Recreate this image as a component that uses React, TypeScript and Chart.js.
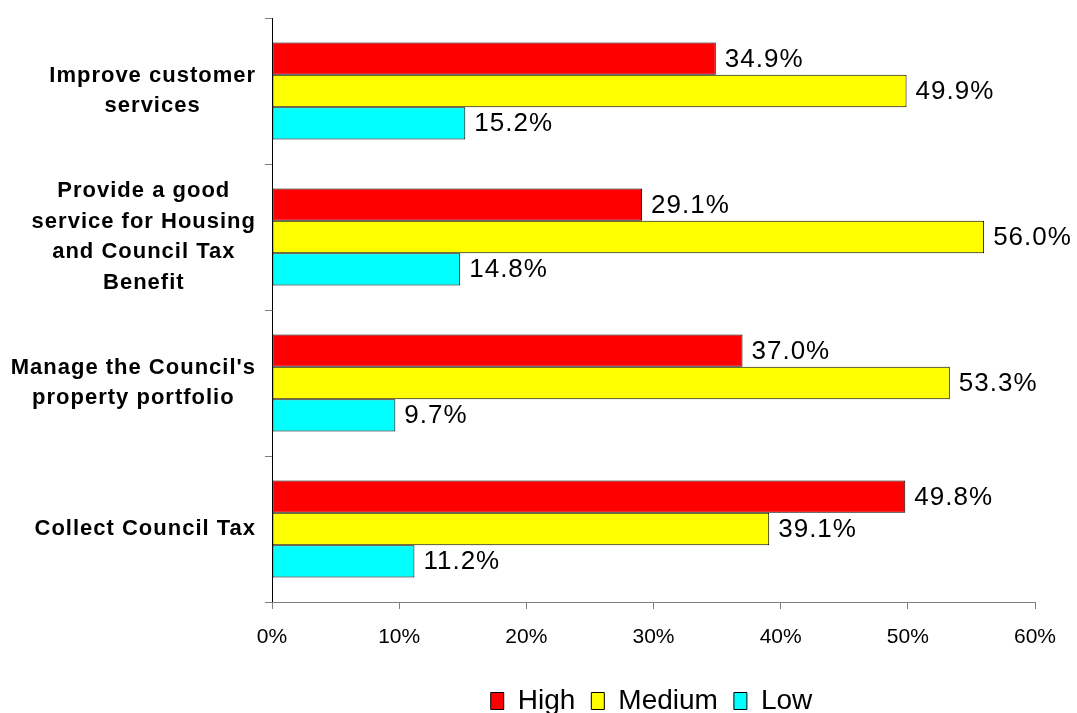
import React, { useEffect, useRef } from "react";
import { Chart, registerables } from "chart.js";

Chart.register(...registerables);

const FONT = "Arial, 'Liberation Sans', sans-serif";

const categories: string[][] = [
  ["Improve customer", "services"],
  ["Provide a good", "service for Housing", "and Council Tax", "Benefit"],
  ["Manage the Council's", "property portfolio"],
  ["Collect Council Tax"],
];
const seriesNames = ["High", "Medium", "Low"];
const seriesColors = ["#FF0000", "#FFFF00", "#00FFFF"];
const highValues = [34.9, 29.1, 37.0, 49.8];
const mediumValues = [49.9, 56.0, 53.3, 39.1];
const lowValues = [15.2, 14.8, 9.7, 11.2];
const xMin = 0;
const xMax = 60;
const xStep = 10;

const valueLabels = {
  id: "valueLabels",
  afterDatasetsDraw(chart: any) {
    const ctx = chart.ctx as CanvasRenderingContext2D;
    ctx.save();
    ctx.font = `26px ${FONT}`;
    (ctx as any).letterSpacing = "1px";
    ctx.fillStyle = "#000";
    ctx.textBaseline = "middle";
    ctx.textAlign = "left";
    chart.data.datasets.forEach((ds: any, di: number) => {
      const meta = chart.getDatasetMeta(di);
      meta.data.forEach((el: any, i: number) => {
        const v = ds.data[i] as number;
        ctx.fillText(v.toFixed(1) + "%", el.x + 9, el.y + 1);
      });
    });
    ctx.restore();
  },
};

const categoryLabels = {
  id: "categoryLabels",
  afterDraw(chart: any) {
    const ctx = chart.ctx as CanvasRenderingContext2D;
    const y = chart.scales.y;
    ctx.save();
    ctx.font = `bold 22px ${FONT}`;
    (ctx as any).letterSpacing = "1px";
    ctx.fillStyle = "#000";
    ctx.textBaseline = "middle";
    ctx.textAlign = "center";
    const right = y.right - 16;
    const lh = 30.5;
    (chart.data.labels as string[][]).forEach((lines, i) => {
      const cy = y.getPixelForValue(i);
      const w = Math.max(...lines.map((l) => ctx.measureText(l).width));
      const cx = right - w / 2;
      lines.forEach((line, k) => {
        ctx.fillText(line, cx, cy + (k - (lines.length - 1) / 2) * lh);
      });
    });
    ctx.restore();
  },
};

const legendShift = {
  id: "legendShift",
  afterLayout(chart: any) {
    const lg = chart.legend;
    if (lg) {
      lg.left += 134;
      lg.right += 134;
    }
  },
};

export default function App() {
  const canvasRef = useRef<HTMLCanvasElement | null>(null);

  useEffect(() => {
    if (!canvasRef.current) return;
    const values = [highValues, mediumValues, lowValues];
    const chart = new Chart(canvasRef.current, {
      type: "bar",
      data: {
        labels: categories as any,
        datasets: seriesNames.map((name, i) => ({
          label: name,
          data: values[i],
          backgroundColor: seriesColors[i],
          borderColor: "#000",
          borderWidth: 1,
          borderSkipped: false,
          categoryPercentage: 0.664,
          barPercentage: 1.0,
        })),
      },
      options: {
        indexAxis: "y",
        animation: false,
        responsive: true,
        maintainAspectRatio: false,
        layout: { padding: { top: 18, right: 42, bottom: -12, left: 0 } },
        scales: {
          y: {
            type: "category",
            grid: {
              drawOnChartArea: false,
              drawTicks: true,
              tickLength: 7,
              color: "#808080",
              offset: true,
            },
            border: { color: "#000", width: 1 },
            ticks: { color: "rgba(0,0,0,0)", font: { size: 12, family: FONT } },
            afterFit(scale: any) {
              scale.width = 272;
            },
          },
          x: {
            type: "linear",
            min: xMin,
            max: xMax,
            ticks: {
              stepSize: xStep,
              color: "#000",
              padding: 16,
              font: { size: 21, family: FONT },
              callback: (v: any) => `${v}%`,
            },
            grid: {
              drawOnChartArea: false,
              drawTicks: true,
              tickLength: 7,
              color: "#808080",
            },
            border: { color: "#808080", width: 1 },
            afterFit(scale: any) {
              scale.height = 69;
            },
          },
        },
        plugins: {
          legend: {
            position: "bottom",
            labels: {
              boxWidth: 13,
              boxHeight: 17,
              padding: 16,
              color: "#000",
              font: { size: 28, family: FONT },
            },
          },
          tooltip: { enabled: false },
        },
      },
      plugins: [valueLabels, categoryLabels, legendShift],
    });
    return () => chart.destroy();
  }, []);

  return (
    <div style={{ position: "fixed", left: 0, top: 0, width: 1077, height: 713, background: "#fff" }}>
      <canvas ref={canvasRef} />
    </div>
  );
}
